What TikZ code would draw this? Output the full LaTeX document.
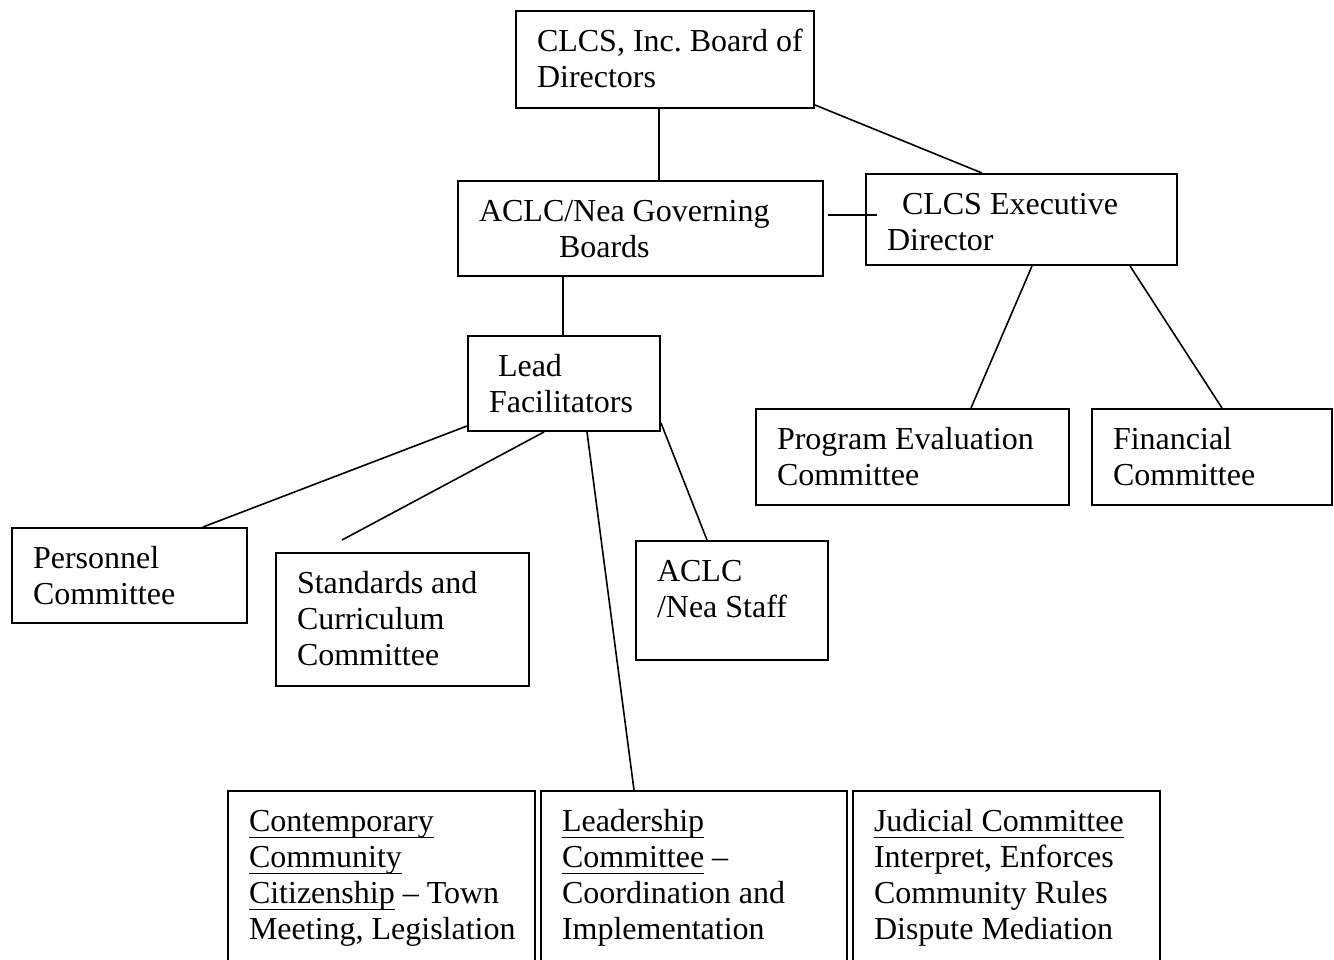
\documentclass[tikz,border=0pt]{standalone}
\usepackage{fontspec}
\setmainfont{Liberation Serif}
\usepackage{xcolor}
\usetikzlibrary{calc}
\frenchspacing

% text inside a box: fixed size, set from the top left
\newcommand{\boxtxt}[3]{\parbox[c][#2][t]{#1}{\raggedright\leftskip=10.5pt\vspace*{7.4pt}\strut#3}}
\newcommand{\undl}[1]{\leavevmode\setbox0\hbox{#1}\rlap{\rule[-3.4pt]{\wd0}{0.6pt}}\box0\relax}

\tikzset{%
  orgbox/.style={draw, line width=1pt, anchor=north west, inner sep=0pt,
    font=\fontsize{16pt}{18pt}\selectfont},%
  link/.style={line width=0.8pt}%
}

\begin{document}
\begin{tikzpicture}[x=0.5pt,y=-0.5pt]%
  \useasboundingbox (0,0) rectangle (1334,959);%
  % boxes
  \node[orgbox] (board) at (515,10) {\boxtxt{149pt}{48.5pt}{CLCS, Inc. Board of\\Directors}};%
  \node[orgbox] (aclc) at (457,180) {\boxtxt{182.5pt}{47.5pt}{ACLC/Nea Governing\\\hspace*{40pt}Boards}};%
  \node[orgbox] (exec) at (865,173) {\boxtxt{155.5pt}{45.5pt}{\hspace*{7.5pt}CLCS Executive\\Director}};%
  \node[orgbox] (lead) at (467,335) {\boxtxt{96pt}{47.5pt}{\hspace*{4.5pt}Lead\\Facilitators}};%
  \node[orgbox] (prog) at (755,408) {\boxtxt{156.5pt}{48pt}{Program Evaluation\\Committee}};%
  \node[orgbox] (fin) at (1091,408) {\boxtxt{120pt}{48pt}{Financial\\Committee}};%
  \node[orgbox] (pers) at (11,527) {\boxtxt{117.5pt}{47.5pt}{Personnel\\Committee}};%
  \node[orgbox] (std) at (275,552) {\boxtxt{126.5pt}{66.5pt}{Standards and\\Curriculum\\Committee}};%
  \node[orgbox] (staff) at (635,540) {\boxtxt{96pt}{59.5pt}{ACLC\\/Nea Staff}};%
  \node[orgbox] (citz) at (227,790) {\boxtxt{153.5pt}{86pt}{\undl{Contemporary}\\\undl{Community}\\\undl{Citizenship} -- Town\\Meeting, Legislation}};%
  \node[orgbox] (ldr) at (540,790) {\boxtxt{153pt}{86pt}{\undl{Leadership}\\\undl{Committee} --\\Coordination and\\Implementation}};%
  \node[orgbox] (jud) at (852,790) {\boxtxt{153.5pt}{86pt}{\undl{Judicial Committee}\\Interpret, Enforces\\Community Rules\\Dispute Mediation}};%
  % lines
  \coordinate (gvL) at ([xshift=2pt,yshift=-17.5pt]aclc.north east);%
  \coordinate (gvR) at ([xshift=6pt,yshift=-21pt]exec.north west);%
  \coordinate (stdEnd) at (342,540);%
  \draw[link] ([xshift=72pt]board.south west) -- ([xshift=101pt]aclc.north west);%
  \draw[link] ([yshift=2pt]board.south east) -- ([xshift=58.5pt]exec.north west);%
  \draw[link] (gvL) -- (gvR);%
  \draw[link] ([xshift=53pt]aclc.south west) -- ([xshift=48pt]lead.north west);%
  \draw[link] ([xshift=83.5pt]exec.south west) -- ([xshift=108pt]prog.north west);%
  \draw[link] ([xshift=132.5pt]exec.south west) -- ([xshift=65.5pt]fin.north west);%
  \draw[link] ([yshift=3pt]lead.south west) -- ([xshift=96pt]pers.north west);%
  \draw[link] ([xshift=38.5pt]lead.south west) -- (stdEnd);%
  \draw[link] ([xshift=60pt]lead.south west) -- ([xshift=47pt]ldr.north west);%
  \draw[link] ([yshift=4.5pt]lead.south east) -- ([xshift=36pt]staff.north west);%
\end{tikzpicture}
\end{document}
